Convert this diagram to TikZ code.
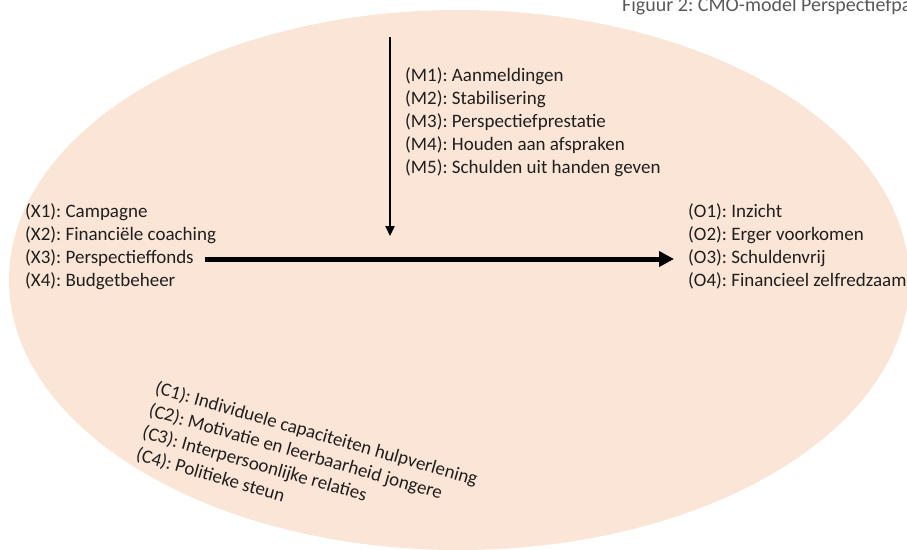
\documentclass[tikz,border=0pt]{standalone}
\usepackage{fontspec}
\setmainfont{Carlito}
\usetikzlibrary{arrows.meta}
\definecolor{peach}{HTML}{FBE5D6}
\definecolor{txt}{HTML}{1F1F1F}
\definecolor{capgray}{HTML}{595959}
\tikzset{
  lbl/.style={inner sep=0pt, align=left, text=txt, font=\frenchspacing\fontsize{19}{23}\selectfont},
  thinarrow/.style={line width=2.3pt, -{Triangle[length=10pt,width=9pt]}},
  thickarrow/.style={line width=5pt, -{Triangle[length=15pt,width=15pt]}},
}
\begin{document}
\begin{tikzpicture}[x=1pt,y=-1pt]
\useasboundingbox (0,0) rectangle (907,549);
\clip (0,0) rectangle (907,549);
\fill[peach] (459,280) ellipse [x radius=450, y radius=270];
\node[anchor=base west, inner sep=0pt, text=capgray, font=\frenchspacing\fontsize{20}{24}\selectfont] (cap) at (622,11) {Figuur 2: CMO-model Perspectiefpact};
\node[lbl, anchor=west] (M) at (405,122.5) {(M1): Aanmeldingen\\(M2): Stabilisering\\(M3): Perspectiefprestatie\\(M4): Houden aan afspraken\\(M5): Schulden uit handen geven};
\node[lbl, anchor=west] (X) at (25,246.5) {(X1): Campagne\\(X2): Financiële coaching\\(X3): Perspectieffonds\\(X4): Budgetbeheer};
\node[lbl, anchor=west] (O) at (688,246.5) {(O1): Inzicht\\(O2): Erger voorkomen\\(O3): Schuldenvrij\\(O4): Financieel zelfredzaam};
\node[lbl, anchor=west, rotate=-16] (C) at (146,421) {(C1): Individuele capaciteiten hulpverlening\\(C2): Motivatie en leerbaarheid jongere\\(C3): Interpersoonlijke relaties\\(C4): Politieke steun};
\coordinate (mtop) at (390,37);
\coordinate (mtip) at (390,236);
\coordinate (xs) at (205,259);
\coordinate (oe) at (674,259);
\draw[thinarrow] (mtop) -- (mtip);
\draw[thickarrow] (xs) -- (oe);
\end{tikzpicture}
\end{document}
